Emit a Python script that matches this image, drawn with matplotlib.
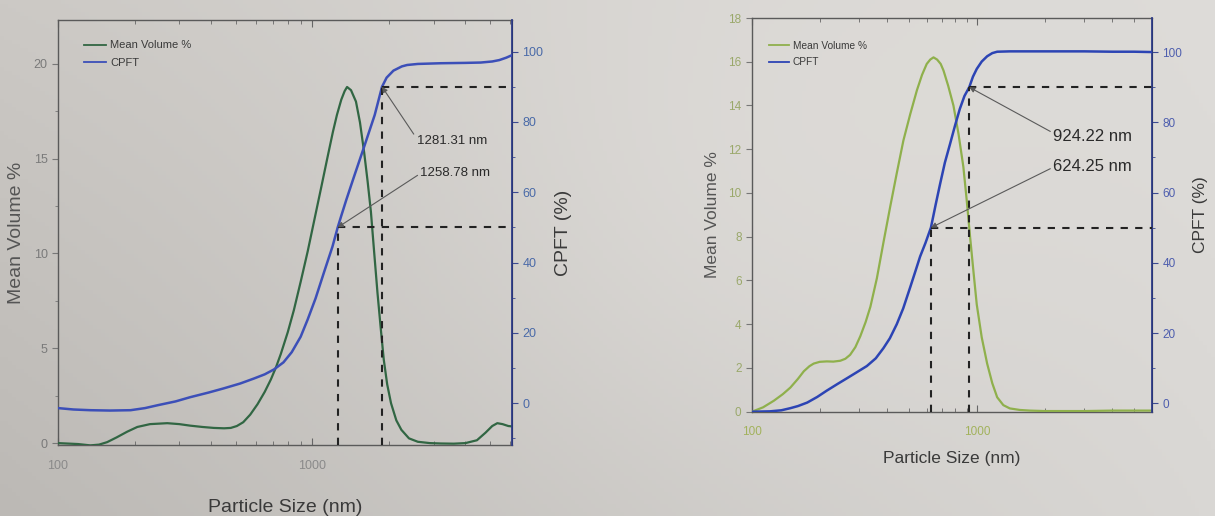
import numpy as np
import matplotlib
matplotlib.use("Agg")
import matplotlib.pyplot as plt
from matplotlib.ticker import FixedLocator, NullFormatter, LogLocator, MultipleLocator
from matplotlib.lines import Line2D

plt.rcParams['font.family'] = ['Liberation Sans', 'DejaVu Sans']

# ---------------- Sample A (left panel) ----------------
a_size_mv = [100, 120, 134, 145, 156, 170, 187, 205, 230, 269, 300, 331, 370, 410, 450, 478,
             505, 535, 570, 609, 650, 687, 720, 752, 801, 846, 900, 959, 1020, 1085, 1145,
             1205, 1250, 1300, 1340, 1370, 1420, 1485, 1540, 1600, 1650, 1700, 1750, 1805,
             1860, 1910, 1970, 2040, 2140, 2240, 2400, 2600, 2900, 3200, 3600, 4000, 4440,
             4800, 5100, 5340, 5600, 5900, 6100]
a_mean_volume = [0.0, -0.05, -0.12, -0.08, 0.05, 0.3, 0.6, 0.85, 1.0, 1.05, 1.0, 0.92, 0.85,
                 0.8, 0.78, 0.8, 0.9, 1.1, 1.5, 2.05, 2.7, 3.35, 4.0, 4.7, 5.85, 7.0, 8.5, 10.1,
                 11.8, 13.5, 15.0, 16.4, 17.3, 18.1, 18.55, 18.77, 18.6, 18.0, 16.9, 15.3, 13.8,
                 12.2, 10.1, 7.9, 6.0, 4.4, 3.1, 2.1, 1.2, 0.7, 0.25, 0.07, 0.0, -0.02, -0.03,
                 0.0, 0.15, 0.55, 0.9, 1.05, 1.0, 0.9, 0.88]
a_size_cpft = [100, 115, 134, 160, 193, 220, 246, 290, 331, 390, 448, 521, 589, 650, 707, 770,
               830, 900, 959, 1030, 1115, 1200, 1258.78, 1300, 1360, 1460, 1600, 1760, 1880,
               1960, 2085, 2250, 2360, 2600, 3200, 4000, 4600, 5100, 5440, 5800, 6100]
a_cpft = [-1.4, -1.8, -2.0, -2.1, -2.0, -1.4, -0.6, 0.5, 1.7, 3.0, 4.2, 5.6, 7.0, 8.2, 9.6,
          11.6, 14.5, 18.9, 23.8, 29.8, 37.5, 44.5, 50.0, 53.3, 57.8, 64.5, 73.0, 82.0, 90.0,
          92.6, 94.6, 95.8, 96.2, 96.5, 96.7, 96.8, 96.9, 97.2, 97.6, 98.3, 99.0]
a_d50, a_d90 = 1258.78, 1880
a_label50, a_label90 = "1258.78 nm", "1281.31 nm"
a_mv_ticks = [0, 5, 10, 15, 20]

# ---------------- Sample B (right panel) ----------------
b_size_mv = [100, 112, 125, 137, 148, 160, 170, 180, 188, 200, 215, 230, 247, 260, 273, 288,
             303, 320, 336, 359, 385, 412, 440, 471, 505, 541, 570, 598, 620, 641, 665, 690,
             710, 745, 786, 828, 870, 900, 930, 965, 998, 1050, 1110, 1170, 1230, 1310, 1400,
             1550, 1720, 2000, 3000, 4000, 5000, 6000]
b_mean_volume = [0.0, 0.2, 0.5, 0.8, 1.1, 1.5, 1.85, 2.08, 2.2, 2.28, 2.3, 2.29, 2.33, 2.42,
                 2.6, 2.95, 3.45, 4.1, 4.8, 6.1, 7.8, 9.4, 10.9, 12.4, 13.6, 14.7, 15.4, 15.9,
                 16.1, 16.2, 16.1, 15.9, 15.6, 14.9, 14.0, 12.7, 11.2, 9.7, 8.1, 6.4, 4.9, 3.4,
                 2.2, 1.3, 0.66, 0.3, 0.15, 0.08, 0.05, 0.03, 0.03, 0.05, 0.05, 0.05]
b_size_cpft = [100, 120, 135, 148, 160, 176, 195, 215, 240, 264, 290, 324, 355, 384, 410, 440,
               470, 506, 532, 559, 590, 624.25, 655, 686, 720, 759, 800, 839, 880, 924.22, 960,
               998, 1050, 1110, 1170, 1230, 1400, 2000, 3000, 4000, 5000, 6000]
b_cpft = [-2.4, -2.3, -2.0, -1.4, -0.8, 0.2, 1.8, 3.6, 5.5, 7.1, 8.7, 10.6, 12.8, 15.7, 18.5,
          22.5, 27.0, 33.2, 37.5, 41.8, 45.6, 50.0, 56.5, 62.5, 68.5, 73.8, 79.2, 83.8, 87.5,
          90.0, 93.0, 95.2, 97.3, 98.8, 99.7, 100.1, 100.2, 100.2, 100.2, 100.1, 100.1, 100.0]
b_d50, b_d90 = 624.25, 924.22
b_label50, b_label90 = "624.25 nm", "924.22 nm"
b_mv_ticks = [0, 2, 4, 6, 8, 10, 12, 14, 16, 18]

cpft_ticks = [0, 20, 40, 60, 80, 100]
x_ticks = [100, 1000]
x_ticklabels = ["100", "1000"]

W, H = 1215, 516
fig = plt.figure(figsize=(W / 100, H / 100), dpi=100)

# paper background with uneven lighting
bg = fig.add_axes([0, 0, 1, 1], zorder=-10)
tl = np.array([0xcc, 0xc9, 0xc5]) / 255
tr = np.array([0xdd, 0xdb, 0xd8]) / 255
bl = np.array([0xbc, 0xb9, 0xb5]) / 255
br = np.array([0xd9, 0xd7, 0xd4]) / 255
u = np.linspace(0, 1, 300)[None, :, None]
v = np.linspace(0, 1, 130)[:, None, None]
grad = (1 - v) * ((1 - u) * tl + u * tr) + v * ((1 - u) * bl + u * br)
cx = np.exp(-((u - 0.6) ** 2) / 0.08 - ((v - 0.4) ** 2) / 0.3)
grad = np.clip(grad + 0.03 * cx, 0, 1)
bg.imshow(grad, aspect='auto', extent=[0, 1, 0, 1], origin='upper')
bg.set_axis_off()


def px_rect(left, top, right, bottom):
    return [left / W, 1 - bottom / H, (right - left) / W, (bottom - top) / H]


def panel(rect, size_mv, mv, size_cp, cp, d50, d90, lab50, lab90, xmax, ylim_mv, ylim_cp,
          mv_ticks, mv_minor, c_mv, c_cp, c_mv_tick, c_cp_tick, c_x_tick, label_fs, tick_fs,
          ann_fs, ann90_xy, ann50_xy, leg_anchor, leg_fs, xpad, xlabelpad):
    ax = fig.add_axes(rect)
    ax.set_facecolor('none')
    ax.set_xscale('log')
    ax.plot(size_mv, mv, color=c_mv, lw=1.6, zorder=3)
    ax.set_xlim(100, xmax)
    ax.set_ylim(*ylim_mv)
    ax.yaxis.set_major_locator(FixedLocator(mv_ticks))
    if mv_minor:
        ax.yaxis.set_minor_locator(MultipleLocator(mv_minor))
    ax.xaxis.set_major_locator(FixedLocator(x_ticks))
    ax.set_xticklabels(x_ticklabels)
    ax.xaxis.set_minor_locator(LogLocator(base=10, subs=np.arange(2, 10)))
    ax.xaxis.set_minor_formatter(NullFormatter())
    ax.tick_params(axis='x', which='both', direction='in', top=True, colors='#666',
                   labelcolor=c_x_tick, labelsize=tick_fs, pad=xpad)
    ax.tick_params(axis='x', which='major', length=5)
    ax.tick_params(axis='x', which='minor', length=3)
    ax.tick_params(axis='y', which='both', direction='out', colors='#777',
                   labelcolor=c_mv_tick, labelsize=tick_fs)
    ax.tick_params(axis='y', which='major', length=4)
    ax.tick_params(axis='y', which='minor', length=2.5)
    for s in ('left', 'bottom', 'top'):
        ax.spines[s].set_color('#5a5a5a')
        ax.spines[s].set_linewidth(1.0)
    ax.set_xlabel("Particle Size (nm)", fontsize=label_fs, color='#3a3a3a',
                  labelpad=xlabelpad)
    ax.set_ylabel("Mean Volume %", fontsize=label_fs, color='#555555', labelpad=6)

    ax2 = ax.twinx()
    ax2.set_facecolor('none')
    ax2.plot(size_cp, cp, color=c_cp, lw=1.8, zorder=3)
    ax2.set_ylim(*ylim_cp)
    ax2.yaxis.set_major_locator(FixedLocator(cpft_ticks))
    ax2.yaxis.set_minor_locator(MultipleLocator(10))
    ax2.tick_params(axis='y', which='both', direction='out', colors='#3c4a90',
                    labelcolor=c_cp_tick, labelsize=tick_fs)
    ax2.tick_params(axis='y', which='major', length=4)
    ax2.tick_params(axis='y', which='minor', length=2.5)
    ax2.spines['right'].set_color('#2e3c88')
    ax2.spines['right'].set_linewidth(1.3)
    for s in ('left', 'bottom', 'top'):
        ax2.spines[s].set_visible(False)
    ax2.set_ylabel("CPFT (%)", fontsize=label_fs, color='#3a3a3a', labelpad=8)

    # D50 / D90 guide lines
    dash = dict(color='#222222', lw=1.5, linestyle=(0, (3.5, 3.5)), zorder=4)
    y0 = ylim_cp[0]
    for d, lvl in ((d50, 50), (d90, 90)):
        ax2.plot([d, d], [y0, lvl], **dash)
        ax2.plot([d, xmax], [lvl, lvl], **dash)

    arrow = dict(arrowstyle='-|>', color='#5a5a5a', lw=0.8, mutation_scale=8,
                 shrinkA=0, shrinkB=0)
    ax2.annotate(lab90, xy=(d90, 90), xytext=ann90_xy, fontsize=ann_fs, color='#2a2a2a',
                 ha='left', va='center',
                 arrowprops=dict(relpos=(0, 0.75), **arrow), zorder=5)
    ax2.annotate(lab50, xy=(d50, 50), xytext=ann50_xy, fontsize=ann_fs, color='#2a2a2a',
                 ha='left', va='center',
                 arrowprops=dict(relpos=(0, 0.45), **arrow), zorder=5)

    handles = [Line2D([], [], color=c_mv, lw=1.3), Line2D([], [], color=c_cp, lw=1.3)]
    ax2.legend(handles, ["Mean Volume %", "CPFT"], loc='upper left',
               bbox_to_anchor=leg_anchor, frameon=False, fontsize=leg_fs,
               handlelength=2.0, handletextpad=0.35, labelspacing=0.65, borderpad=0,
               labelcolor='#3a3a3a')
    return ax, ax2


panel(px_rect(58, 20, 512, 445), a_size_mv, a_mean_volume, a_size_cpft, a_cpft,
      a_d50, a_d90, a_label50, a_label90, xmax=6100, ylim_mv=(-0.1, 22.3),
      ylim_cp=(-11.9, 109.0), mv_ticks=a_mv_ticks, mv_minor=2.5,
      c_mv='#316643', c_cp='#3c4fb8', c_mv_tick='#7a7a7a', c_cp_tick='#4a6aa8',
      c_x_tick='#8a8a8a', label_fs=14, tick_fs=9, ann_fs=9.5,
      ann90_xy=(2570, 74.5), ann50_xy=(2660, 65.5), leg_anchor=(0.045, 0.965), leg_fs=8,
      xpad=11, xlabelpad=19)

panel(px_rect(752, 18, 1152, 411.7), b_size_mv, b_mean_volume, b_size_cpft, b_cpft,
      b_d50, b_d90, b_label50, b_label90, xmax=6000, ylim_mv=(0, 18),
      ylim_cp=(-2.4, 109.7), mv_ticks=b_mv_ticks, mv_minor=None,
      c_mv='#8fb04c', c_cp='#2c44b4', c_mv_tick='#9aa86a', c_cp_tick='#4e5eae',
      c_x_tick='#a2b25c', label_fs=12.5, tick_fs=8.5, ann_fs=12,
      ann90_xy=(2180, 75.9), ann50_xy=(2180, 67.4), leg_anchor=(0.03, 0.955), leg_fs=7.3,
      xpad=10, xlabelpad=10)

fig.savefig("out.png", dpi=100)
